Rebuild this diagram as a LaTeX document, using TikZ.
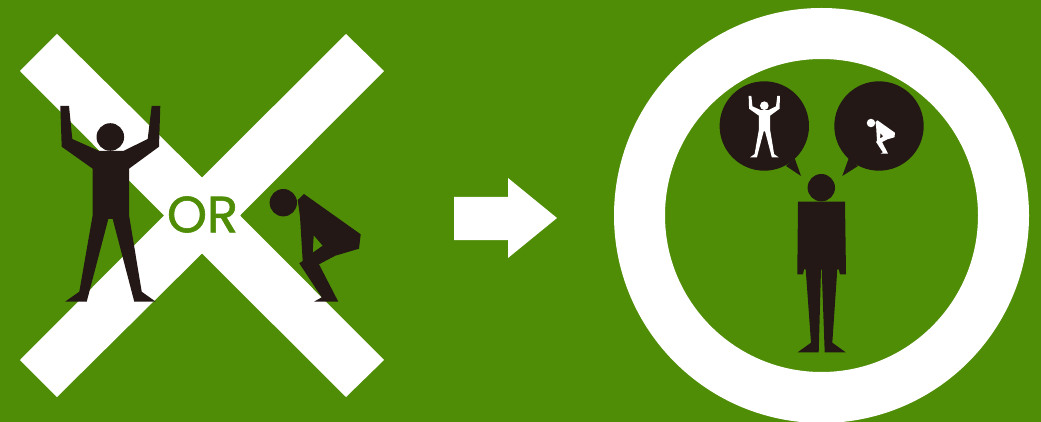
\documentclass[tikz,border=0pt]{standalone}
\usepackage{fontspec}
\newfontfamily\orfont[FakeBold=1.2]{Poppins}
\usepackage{xcolor}
\usepackage{tikz}
\definecolor{bggreen}{HTML}{4F8D06}
\definecolor{figdark}{HTML}{231815}
\tikzset{
  pics/standman/.style={code={
    \fill[#1] (110.3,137) circle (13.8);
    \fill[#1] (60.3,106) -- (69,106) -- (72.3,139) -- (99.3,151) -- (123.3,151) -- (147.7,139) -- (151.7,106) -- (160.3,106) -- (159,146.7) -- (129,168.7) -- (129,215) -- (141.7,291.7) -- (155.7,301.7) -- (134.3,301.7) -- (112.7,219) -- (108.3,219) -- (86.7,301.7) -- (65,301.7) -- (79.3,291.7) -- (92.7,215) -- (92.7,168.7) -- (61.7,146.7) -- cycle;
  }},
  pics/bentman/.style={code={
    \fill[#1] (283.3,202.7) circle (13.7);
    \fill[#1, even odd rule] (304,194) -- (360.7,234.3) -- (359,248.7) -- (335.3,255.7) -- (319,264.3) -- (338.3,301.7) -- (314,301.7) -- (321.7,297.3) -- (299.3,263.3) -- (302.7,261) -- (300,216.7) -- (297.7,200) -- cycle
      (313.7,235.3) -- (322.7,245.7) -- (312.7,252.7) -- cycle;
  }}
}

\begin{document}
\begin{tikzpicture}[
  x=1pt, y=-1pt,
  ring/.style={draw=white, line width=51pt},
  mark x/.style={fill=white},
  bubble/.style={fill=figdark},
  ortext/.style={text=bggreen, font=\orfont\fontsize{51}{51}\selectfont, inner sep=0pt}
]
\clip (0,0) rectangle (1041,422);
\fill[bggreen] (0,0) rectangle (1041,422);

\fill[mark x] (57,34) -- (202,177.5) -- (346,34) -- (384,71) -- (240,215.5) -- (384,360) -- (346,397) -- (202,253.5) -- (57,397) -- (20,360) -- (164,215.5) -- (20,71) -- cycle;
\node[ortext] (or) at (202.5,214.5) {OR};
\pic at (110.3,137) [shift={(-110.3,-137)}] {standman=figdark};
\pic at (283.3,202.7) [shift={(-283.3,-202.7)}] {bentman=figdark};

\fill[white] (454,197) -- (508,197) -- (508,178) -- (557,218) -- (508,258) -- (508,240) -- (454,240) -- cycle;

\draw[ring] (821.5,215.5) circle (182);

\fill[bubble] (764.3,126) circle (44.7);
\fill[bubble] (786,166) -- (801,176) -- (794.7,158.3) -- cycle;
\fill[bubble] (879,126) circle (44.7);
\fill[bubble] (858,166) -- (842.3,176) -- (848.7,158.3) -- cycle;
\pic at (764.3,105.7) [scale=0.313, shift={(-110.3,-137)}] {standman=white};
\pic at (871,123) [scale=0.31, shift={(-283.3,-202.7)}] {bentman=white};

\fill[figdark] (821.3,187.7) circle (13.7);
\fill[figdark] (798,201.7) -- (845,201.7) -- (846,274.3) -- (840,274.3) -- (838.7,269.3) -- (837.3,269.3) -- (832.3,342.7) -- (845.7,352.3) -- (824.7,352.3) -- (821.7,269.3) -- (821,269.3) -- (818.7,352.3) -- (797.7,352.3) -- (811,342.7) -- (805.7,269.3) -- (804,269.3) -- (803,274.3) -- (797.3,274.3) -- cycle;
\end{tikzpicture}
\end{document}
